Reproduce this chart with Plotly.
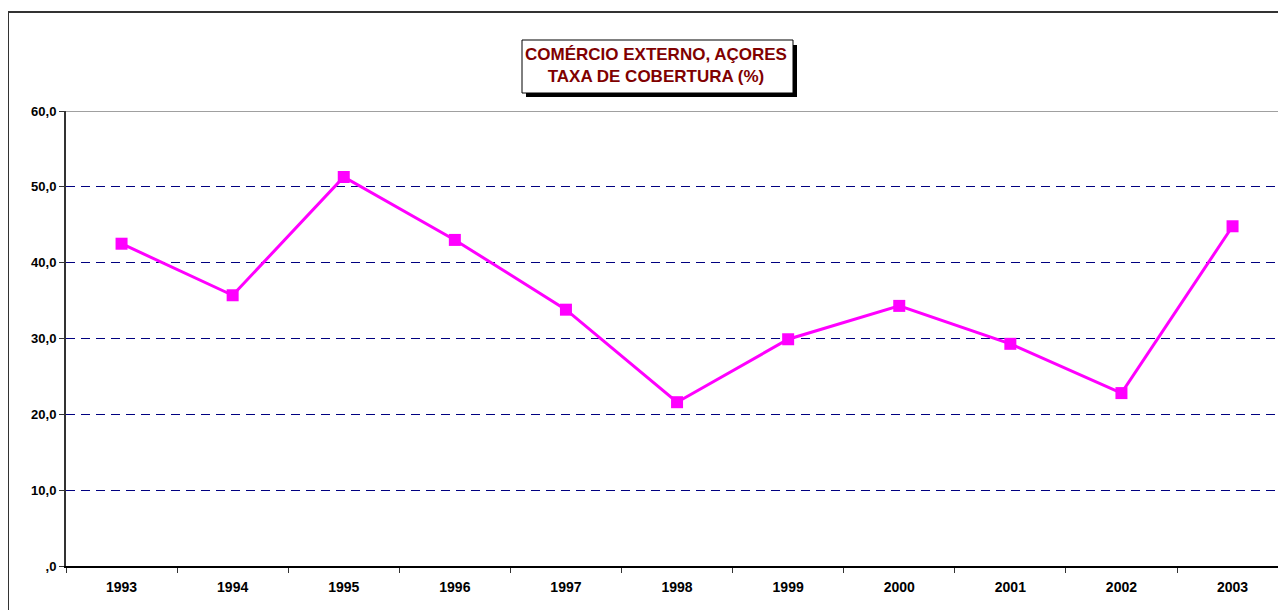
import plotly.graph_objects as go

years = ["1993", "1994", "1995", "1996", "1997", "1998", "1999", "2000", "2001", "2002", "2003"]
coverage = [42.5, 35.7, 51.3, 43.0, 33.8, 21.6, 29.9, 34.3, 29.3, 22.8, 44.8]
y_ticks = [0, 10, 20, 30, 40, 50, 60]
y_tick_labels = [",0", "10,0", "20,0", "30,0", "40,0", "50,0", "60,0"]
title_lines = ["COMÉRCIO EXTERNO, AÇORES", "TAXA DE COBERTURA (%)"]

# page has an 8px body margin; figure coords = page coords - 8
OFF = 8
W, H = 1286 - 2 * OFF, 610 - OFF
L, R, T, B = 66 - OFF, 0, 111 - OFF, 44
PW, PH = W - L - R, H - T - B
CAT_W = 111.1  # px per category in the reference

def px(x):  # page x -> paper
    return (x - OFF - L) / PW

def py(y):  # page y -> paper
    return (H - B - (y - OFF)) / PH

FONT = "Arial, Liberation Sans, sans-serif"

fig = go.Figure()
fig.add_trace(go.Scatter(
    x=years, y=coverage, mode="lines+markers",
    line=dict(color="#FF00FF", width=3),
    marker=dict(symbol="square", size=12, color="#FF00FF"),
    showlegend=False, hoverinfo="x+y", cliponaxis=False,
))

shapes = [
    dict(type="line", xref="paper", yref="y", x0=0, x1=1, y0=60, y1=60,
         line=dict(color="#808080", width=1.5), layer="above"),
    dict(type="line", xref="paper", yref="paper", x0=px(8), x1=px(1300), y0=py(12), y1=py(12),
         line=dict(color="#333333", width=2)),
    dict(type="line", xref="paper", yref="paper", x0=px(8), x1=px(8), y0=py(12), y1=py(620),
         line=dict(color="#333333", width=2)),
    dict(type="rect", xref="paper", yref="paper", x0=px(526), x1=px(797), y0=py(45), y1=py(97),
         fillcolor="black", line=dict(width=0)),
    dict(type="rect", xref="paper", yref="paper", x0=px(522), x1=px(793), y0=py(40), y1=py(93),
         fillcolor="white", line=dict(color="black", width=1)),
]

fig.update_layout(
    width=W, height=H,
    margin=dict(l=L, r=R, t=T, b=B, autoexpand=False),
    paper_bgcolor="white", plot_bgcolor="white",
    font=dict(family=FONT, size=13, color="black"),
    shapes=shapes,
    annotations=[dict(
        xref="paper", yref="paper", x=px(656), y=py(66), xanchor="center", yanchor="middle",
        text="<b>" + "<br>".join(title_lines) + "</b>", showarrow=False,
        font=dict(family=FONT, size=17, color="#800000"), align="center",
    )],
    xaxis=dict(
        type="category", range=[-0.5, -0.5 + PW / CAT_W], tickson="boundaries",
        ticks="outside", ticklen=5, tickcolor="#333333",
        showline=True, linecolor="black", linewidth=1.5,
        showgrid=False, zeroline=False, ticklabelstandoff=7,
        tickfont=dict(family=FONT, size=14, color="black", weight="bold"),
        fixedrange=True,
    ),
    yaxis=dict(
        range=[0, 60], tickvals=y_ticks, ticktext=y_tick_labels,
        ticks="outside", ticklen=5, tickcolor="#333333",
        showline=True, linecolor="#333333", linewidth=2,
        showgrid=True, gridcolor="#000080", griddash="9px,6px", gridwidth=1,
        zeroline=False,
        tickfont=dict(family=FONT, size=13, color="black", weight="bold"),
        fixedrange=True,
    ),
)

fig.write_html("out.html")
